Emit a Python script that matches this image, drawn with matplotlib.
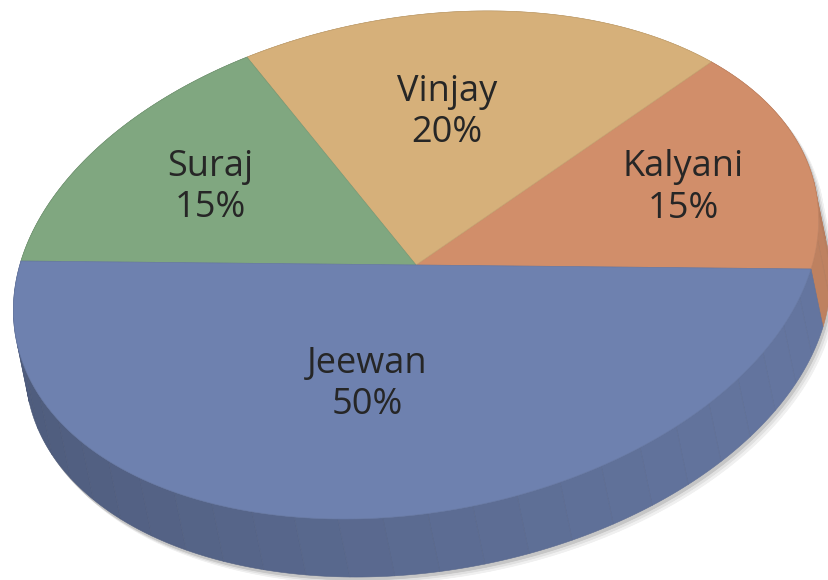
import numpy as np
import matplotlib
matplotlib.use("Agg")
import matplotlib.pyplot as plt
from matplotlib.patches import Polygon
from matplotlib.colors import to_rgb

# ---- data ----
names = ["Kalyani", "Vinjay", "Suraj", "Jeewan"]
shares = [15, 20, 15, 50]
colors = ["#D18E6A", "#D6B07A", "#80A780", "#6E81AF"]

# label placement (fraction of radius along the slice's mid angle, x nudge)
label_r = [0.69, 0.60, 0.65, 0.47]
label_dx = [0, -16, 0, -12]

W, H = 829, 580
fig = plt.figure(figsize=(W / 100, H / 100), dpi=100)
ax = fig.add_axes([0, 0, 1, 1])
ax.set_xlim(0, W)
ax.set_ylim(H, 0)
ax.axis("off")

cx, cy = 416, 265
rx, ry = 395, 254
shear_x = 78
tilt_y = 4
depth_dx, depth_dy = 12, 58


def top(t):
    t = np.atleast_1d(t)
    return np.column_stack([cx + rx * np.cos(t) + shear_x * np.sin(t),
                            cy + tilt_y * np.cos(t) - ry * np.sin(t)])


def bottom(t):
    p = top(t)
    p[:, 0] += depth_dx
    p[:, 1] += depth_dy
    return p


total = float(sum(shares))
bounds = np.concatenate([[0], np.cumsum(shares)]) / total * 2 * np.pi


def facets():
    out = []
    for i in range(len(shares)):
        a, b = bounds[i], bounds[i + 1]
        n = max(1, int(round((b - a) / np.radians(6.5))))
        edges = np.linspace(a, b, n + 1)
        for k in range(n):
            out.append((i, edges[k], edges[k + 1]))
    return out


fac = facets()

# ---- soft shadow (silhouette offset) ----
for (ox, oy, col) in [(6, 7, "#f0f0f0"), (4, 5, "#e0e0e0"), (2, 3, "#c6c6c6")]:
    tt = np.linspace(0, 2 * np.pi, 400)
    for p in (top(tt), bottom(tt)):
        ax.add_patch(Polygon(p + [ox, oy], closed=True, fc=col, ec="none", zorder=1))
    for (i, a, b) in fac:
        tt2 = np.linspace(a, b, 8)
        poly = np.vstack([top(tt2), bottom(tt2[::-1])]) + [ox, oy]
        ax.add_patch(Polygon(poly, closed=True, fc=col, ec=col, lw=0.5, zorder=1))

# ---- side facets (back to front) ----
side = []
for (i, a, b) in fac:
    tt2 = np.linspace(a, b, 8)
    poly = np.vstack([top(tt2), bottom(tt2[::-1])])
    m = 0.5 * (a + b)
    shade = 0.81 + 0.10 * np.cos(m)
    base = np.array(to_rgb(colors[i]))
    side.append((poly[:, 1].mean(), poly, np.clip(base * shade, 0, 1)))
side.sort(key=lambda s: s[0])
for (_, poly, fc) in side:
    ax.add_patch(Polygon(poly, closed=True, fc=fc, ec=np.clip(fc * 0.95, 0, 1),
                         lw=0.4, zorder=2))

# ---- top faces ----
for i in range(len(shares)):
    tt = np.linspace(bounds[i], bounds[i + 1], 200)
    poly = np.vstack([[cx, cy], top(tt)])
    fc = np.array(to_rgb(colors[i]))
    ax.add_patch(Polygon(poly, closed=True, fc=fc, ec=np.clip(fc * 0.93, 0, 1),
                         lw=0.5, zorder=3))

# ---- labels ----
for i in range(len(shares)):
    m = 0.5 * (bounds[i] + bounds[i + 1])
    p = top(m)[0]
    f = label_r[i]
    x = cx + f * (p[0] - cx) + label_dx[i]
    y = cy + f * (p[1] - cy)
    ax.text(x, y, f"{names[i]}\n{shares[i]}%", ha="center", va="center",
            fontsize=26, family=["Open Sans", "DejaVu Sans"],
            color="#262626", linespacing=1.2, zorder=5)

fig.savefig("out.png", dpi=100)
